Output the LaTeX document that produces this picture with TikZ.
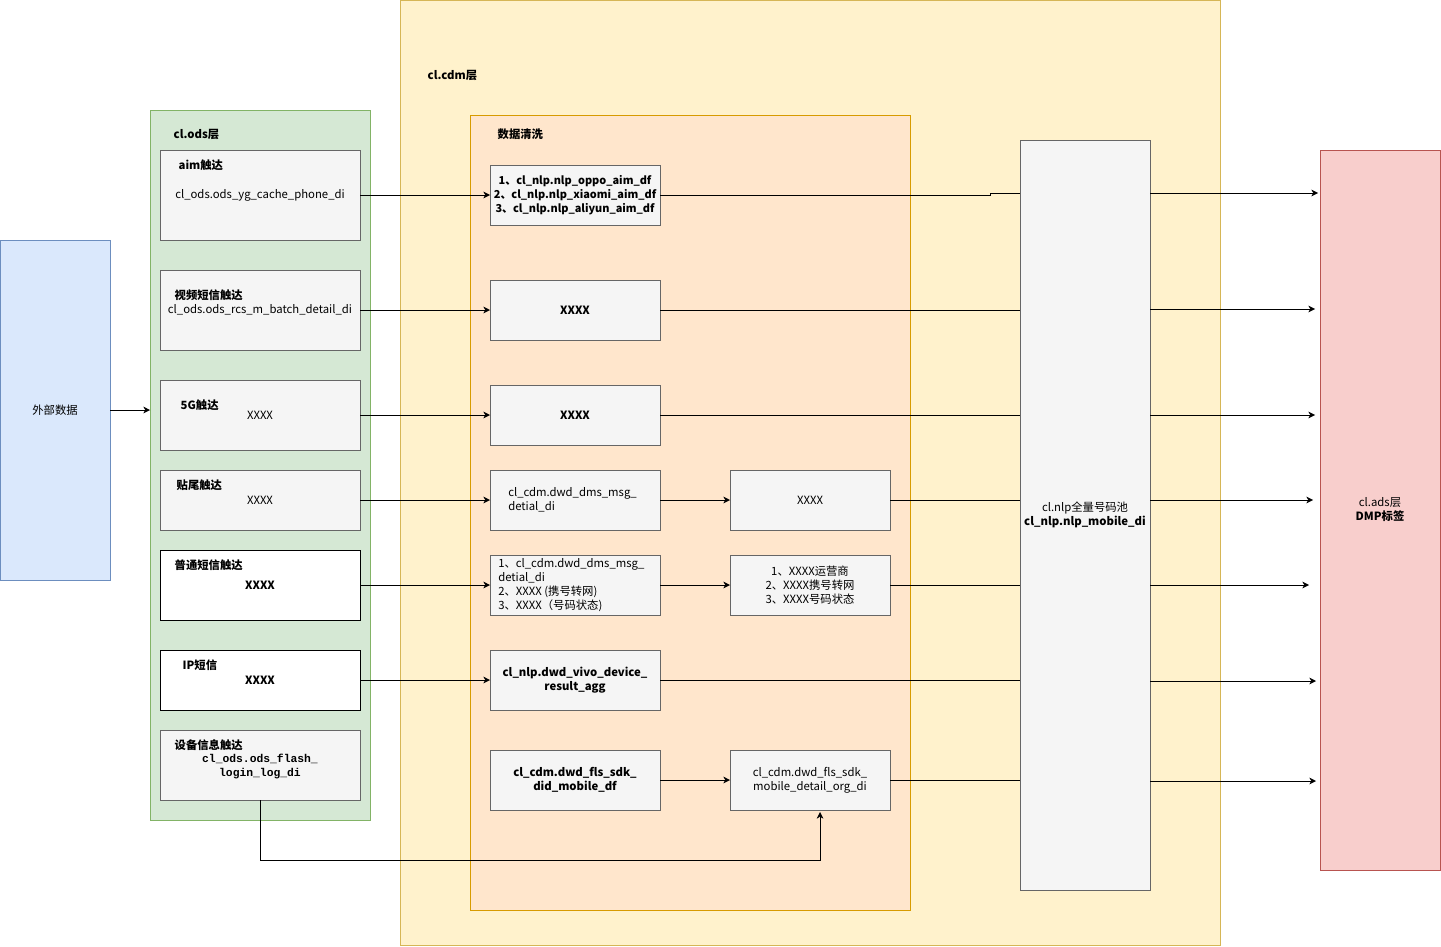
\documentclass[tikz,border=0pt]{standalone}
\usepackage{fontspec}
\setmainfont{Noto Sans CJK SC}
\newfontfamily\monof{Liberation Mono}
\usetikzlibrary{arrows.meta}
\definecolor{gfill}{HTML}{F5F5F5}\definecolor{gline}{HTML}{666666}
\definecolor{bfill}{HTML}{DAE8FC}\definecolor{bline}{HTML}{6C8EBF}
\definecolor{yfill}{HTML}{FFF2CC}\definecolor{yline}{HTML}{D6B656}
\definecolor{grfill}{HTML}{D5E8D4}\definecolor{grline}{HTML}{82B366}
\definecolor{ofill}{HTML}{FFE6CC}\definecolor{oline}{HTML}{D79B00}
\definecolor{rfill}{HTML}{F8CECC}\definecolor{rline}{HTML}{B85450}
\begin{document}
\begin{tikzpicture}[x=0.75pt,y=-0.75pt,font=\fontsize{8.5}{10.5}\selectfont,
 box/.style={draw=gline,fill=gfill},
 wbox/.style={draw=black,fill=white},
 lbl/.style={anchor=west,font=\fontsize{8.5}{10.5}\selectfont\bfseries},
 arr/.style={-{Stealth[length=5pt,width=5pt,inset=1.5pt]}},
 t/.style={align=center,inner sep=0}]
\useasboundingbox (0,0) rectangle (1441,946);
\draw[fill=bfill,draw=bline] (0,240) rectangle (110,580);
\node[t] (ext) at (55,410) {外部数据};
\coordinate (extE) at (110,410);
\draw[fill=yfill,draw=yline] (400,0) rectangle (1220,945);
\node[lbl] at (423,75) {cl.cdm层};
\draw[fill=grfill,draw=grline] (150,110) rectangle (370,820);
\coordinate (odsW) at (150,410);
\node[lbl] at (169,134) {cl.ods层};
\draw[fill=ofill,draw=oline] (470,115) rectangle (910,910);
\node[lbl] at (493,134) {数据清洗};
\draw[box] (1020,140) rectangle (1150,890);
\node[t] at (1085,515) {cl.nlp全量号码池\\\bfseries cl\_nlp.nlp\_mobile\_di};
\draw[fill=rfill,draw=rline] (1320,150) rectangle (1440,870);
\node[t] at (1380,510) {cl.ads层\\\bfseries DMP标签};
% ods boxes
\draw[box] (160,150) rectangle (360,240);
\node[lbl] at (174,165) {aim触达};
\node[t] at (260,195) {cl\_ods.ods\_yg\_cache\_phone\_di};
\draw[box] (160,270) rectangle (360,350);
\node[lbl] at (170,295) {视频短信触达};
\node[t] at (260,310) {cl\_ods.ods\_rcs\_m\_batch\_detail\_di};
\draw[box] (160,380) rectangle (360,450);
\node[lbl] at (176,405) {5G触达}; \node[t] at (260,415) {XXXX};
\draw[box] (160,470) rectangle (360,530);
\node[lbl] at (172,485) {贴尾触达}; \node[t] at (260,500) {XXXX};
\draw[wbox] (160,550) rectangle (360,620);
\node[lbl] at (170,565) {普通短信触达}; \node[t] at (260,585) {\bfseries XXXX};
\draw[wbox] (160,650) rectangle (360,710);
\node[lbl] at (178,665) {IP短信}; \node[t] at (260,680) {\bfseries XXXX};
\draw[box] (160,730) rectangle (360,800);
\node[lbl] at (170,745) {设备信息触达};
\node[t] at (260,766) {\monof\bfseries cl\_ods.ods\_flash\_\\\monof\bfseries login\_log\_di};
% middle
\draw[box] (490,165) rectangle (660,225);
\node[t,font=\fontsize{8.2}{10.5}\selectfont\bfseries] at (575,195) {1、cl\_nlp.nlp\_oppo\_aim\_df\\2、cl\_nlp.nlp\_xiaomi\_aim\_df\\3、cl\_nlp.nlp\_aliyun\_aim\_df};
\draw[box] (490,280) rectangle (660,340); \node[t] at (575,310) {\bfseries XXXX};
\draw[box] (490,385) rectangle (660,445); \node[t] at (575,415) {\bfseries XXXX};
\draw[box] (490,470) rectangle (660,530);
\node[t,align=left,anchor=west] at (508,500) {cl\_cdm.dwd\_dms\_msg\_\\detial\_di};
\draw[box] (490,555) rectangle (660,615);
\node[t,align=left,anchor=west] at (498,585) {1、cl\_cdm.dwd\_dms\_msg\_\\detial\_di\\2、XXXX (携号转网)\\3、XXXX（号码状态)};
\draw[box] (490,650) rectangle (660,710);
\node[t] at (575,680) {\bfseries cl\_nlp.dwd\_vivo\_device\_\\\bfseries result\_agg};
\draw[box] (490,750) rectangle (660,810);
\node[t] at (575,780) {\bfseries cl\_cdm.dwd\_fls\_sdk\_\\\bfseries did\_mobile\_df};
\draw[box] (730,470) rectangle (890,530); \node[t] at (810,500) {XXXX};
\draw[box] (730,555) rectangle (890,615);
\node[t] at (810,585) {1、XXXX运营商\\2、XXXX携号转网\\3、XXXX号码状态};
\draw[box] (730,750) rectangle (890,810);
\node[t] at (810,780) {cl\_cdm.dwd\_fls\_sdk\_\\mobile\_detail\_org\_di};
% arrows
\draw[arr] (extE) -- (odsW);
\foreach \y in {195,310,415,500,585,680} \draw[arr] (360,\y) -- (490,\y);
\draw[arr] (660,500) -- (730,500);
\draw[arr] (660,585) -- (730,585);
\draw[arr] (660,780) -- (730,780);
\draw (660,195) -- (990,195) -- (990,193) -- (1020,193);
\foreach \y in {310,415,680} \draw (660,\y) -- (1020,\y);
\foreach \y in {500,585,780} \draw (890,\y) -- (1020,\y);
\draw[arr] (1150,193) -- (1318,193);
\draw[arr] (1150,309) -- (1315,309);
\draw[arr] (1150,415) -- (1315,415);
\draw[arr] (1150,500) -- (1313,500);
\draw[arr] (1150,585) -- (1309,585);
\draw[arr] (1150,681) -- (1316,681);
\draw[arr] (1150,781) -- (1316,781);
\draw[arr] (260,800) -- (260,860) -- (820,860) -- (820,812);
\end{tikzpicture}
\end{document}
